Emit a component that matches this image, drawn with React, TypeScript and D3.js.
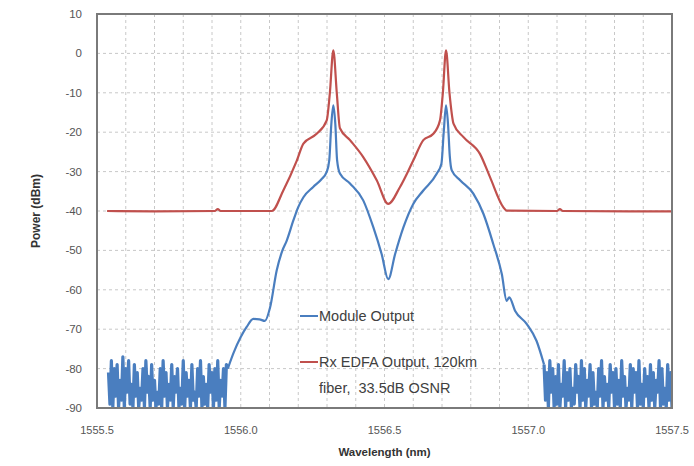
import React from "react";
import * as d3 from "d3";

// spectrum data (wavelength nm, power dBm)
const redSeries: [number, number][] = [
  [1555.535, -40], [1555.7, -40.1], [1555.91, -40], [1555.92, -39.5], [1555.93, -40],
  [1556.108, -40], [1556.148, -34.8], [1556.195, -27.2], [1556.218, -22.9], [1556.264, -20.4],
  [1556.299, -17], [1556.31, -10], [1556.322, 0.8], [1556.334, -10], [1556.345, -19],
  [1556.38, -22], [1556.426, -26.3], [1556.473, -32.2], [1556.513, -38.2], [1556.554, -33.9],
  [1556.6, -27.2], [1556.635, -22], [1556.67, -20.4], [1556.693, -17], [1556.703, -10],
  [1556.714, 0.8], [1556.726, -10], [1556.74, -17.8], [1556.774, -21.2], [1556.832, -25.5],
  [1556.867, -31.4], [1556.913, -39], [1556.925, -39.9], [1557.1, -40], [1557.11, -39.5],
  [1557.12, -40], [1557.5, -40.1],
];

const blueMain: [number, number][] = [
  [1555.955, -80], [1555.975, -76], [1556.0, -72], [1556.02, -69.5], [1556.044, -67.4],
  [1556.065, -67.5], [1556.084, -67.9], [1556.102, -64.5], [1556.125, -55.1], [1556.145, -50],
  [1556.16, -47.5], [1556.183, -42.4], [1556.2, -39], [1556.218, -36.5], [1556.252, -33.9],
  [1556.28, -32], [1556.299, -30.1], [1556.308, -27], [1556.315, -18], [1556.322, -13.2],
  [1556.329, -18], [1556.335, -27], [1556.345, -30.5], [1556.38, -33], [1556.426, -37.3],
  [1556.461, -44.1], [1556.49, -50.9], [1556.513, -57.3], [1556.537, -50.9], [1556.566, -44.1],
  [1556.6, -38.2], [1556.635, -34.8], [1556.682, -30.5], [1556.698, -28], [1556.706, -20],
  [1556.714, -13.2], [1556.721, -18], [1556.727, -26], [1556.734, -29.7], [1556.763, -32.2],
  [1556.809, -35.6], [1556.844, -40.7], [1556.878, -48.3], [1556.908, -56], [1556.925, -62.8],
  [1556.934, -61.9], [1556.954, -65.3], [1556.995, -68.7], [1557.029, -73], [1557.055, -79],
];

// noise floor samples, OSA resolution step 0.005 nm
const noiseStep = 0.005;
const noiseLeftStart = 1555.54;
const noiseLeft = [
  -81, -89, -78, -90, -80, -87, -79, -90, -83, -88, -77, -90,
  -80, -86, -78, -89, -84, -90, -79, -87, -81, -90, -85, -88,
  -80, -90, -78, -86, -82, -90, -79, -88, -83, -90, -86, -89,
  -80, -90, -78, -87, -81, -90, -84, -88, -79, -90, -82, -86,
  -80, -90, -85, -89, -78, -90, -81, -87, -83, -90, -79, -88,
  -86, -90, -80, -87, -78, -90, -82, -89, -84, -90, -79, -86,
  -81, -90, -80, -88, -78, -90, -83, -87, -80, -90, -79, -80,
];
const noiseRightStart = 1557.055;
const noiseRight = [
  -79, -88, -81, -90, -78, -86, -80, -90, -82, -89, -79, -90,
  -84, -87, -78, -90, -81, -88, -80, -90, -85, -89, -79, -86,
  -82, -90, -78, -88, -80, -90, -83, -87, -79, -90, -81, -89,
  -86, -90, -80, -87, -78, -90, -82, -88, -84, -90, -79, -86,
  -81, -90, -80, -89, -83, -90, -78, -87, -82, -90, -85, -88,
  -79, -90, -80, -86, -81, -90, -78, -89, -84, -90, -80, -87,
  -82, -90, -79, -88, -81, -90, -83, -86, -78, -90, -80, -89,
  -85, -90, -79, -88, -81, -90,
];

const xTicks = [1555.5, 1556.0, 1556.5, 1557.0, 1557.5];
const yTicks = [10, 0, -10, -20, -30, -40, -50, -60, -70, -80, -90];
const xGrid = d3.range(0, 21).map((i) => 1555.5 + i * 0.1);

const noiseL: [number, number][] = noiseLeft.map((v, i) => [noiseLeftStart + i * noiseStep, v]);
const noiseR: [number, number][] = noiseRight.map((v, i) => [noiseRightStart + i * noiseStep, v]);

const RED = "#c0504d";
const BLUE = "#4a7ebf";

export default function App() {
  const width = 694;
  const height = 466;
  const left = 97, right = 672, top = 14, bottom = 408;

  const x = d3.scaleLinear().domain([1555.5, 1557.5]).range([left, right]);
  const y = d3.scaleLinear().domain([-90, 10]).range([bottom, top]);
  const smooth = d3.line<[number, number]>().x((d) => x(d[0])).y((d) => y(d[1])).curve(d3.curveMonotoneX);
  const raw = d3.line<[number, number]>().x((d) => x(d[0])).y((d) => y(d[1]));

  return (
    <svg width={width} height={height} style={{ position: "absolute", left: 0, top: 0, background: "#fff" }}
      fontFamily="'Liberation Sans', Arial, sans-serif">
      <defs>
        <clipPath id="plot">
          <rect x={left} y={top} width={right - left} height={bottom - top} />
        </clipPath>
      </defs>
      {/* grid */}
      <g stroke="#c8c8c8" strokeWidth={1} strokeDasharray="3,3">
        {xGrid.map((g, i) => (
          <line key={"vx" + i} x1={x(g)} x2={x(g)} y1={top} y2={bottom} />
        ))}
        {yTicks.map((t) => (
          <line key={"hy" + t} x1={left} x2={right} y1={y(t)} y2={y(t)} />
        ))}
      </g>
      <g clipPath="url(#plot)" fill="none" strokeLinejoin="round">
        <path d={smooth(redSeries) ?? ""} stroke={RED} strokeWidth={2.2} />
        <path d={smooth(blueMain) ?? ""} stroke={BLUE} strokeWidth={2.2} />
        <path d={raw(noiseL) ?? ""} stroke={BLUE} strokeWidth={3.2} />
        <path d={raw(noiseR) ?? ""} stroke={BLUE} strokeWidth={3.2} />
      </g>
      <rect x={left} y={top} width={right - left} height={bottom - top} fill="none" stroke="#7a7a7a" strokeWidth={2} />
      {/* tick labels */}
      <g fontSize={11.5} fill="#555" textAnchor="end">
        {yTicks.map((t) => (
          <text key={t} x={left - 15} y={y(t)} dy="0.35em">{t}</text>
        ))}
      </g>
      <g fontSize={11} fill="#555" textAnchor="middle">
        {xTicks.map((t) => (
          <text key={t} x={x(t)} y={434}>{t.toFixed(1)}</text>
        ))}
      </g>
      <text x={(left + right) / 2} y={456} textAnchor="middle" fontSize={11.5} fontWeight="bold" fill="#333">
        Wavelength (nm)
      </text>
      <text transform={`translate(40,${(top + bottom) / 2}) rotate(-90)`} textAnchor="middle" fontSize={12} fontWeight="bold" fill="#333">
        Power (dBm)
      </text>
      {/* legend */}
      <g fontSize={14.5} fill="#404040">
        <line x1={300} x2={318} y1={316} y2={316} stroke={BLUE} strokeWidth={2} />
        <text x={319} y={316} dy="0.35em">Module Output</text>
        <line x1={300} x2={318} y1={362} y2={362} stroke={RED} strokeWidth={2} />
        <text x={319} y={362} dy="0.35em">Rx EDFA Output, 120km</text>
        <text x={319} y={388} dy="0.35em" xmlSpace="preserve">fiber,  33.5dB OSNR</text>
      </g>
    </svg>
  );
}
